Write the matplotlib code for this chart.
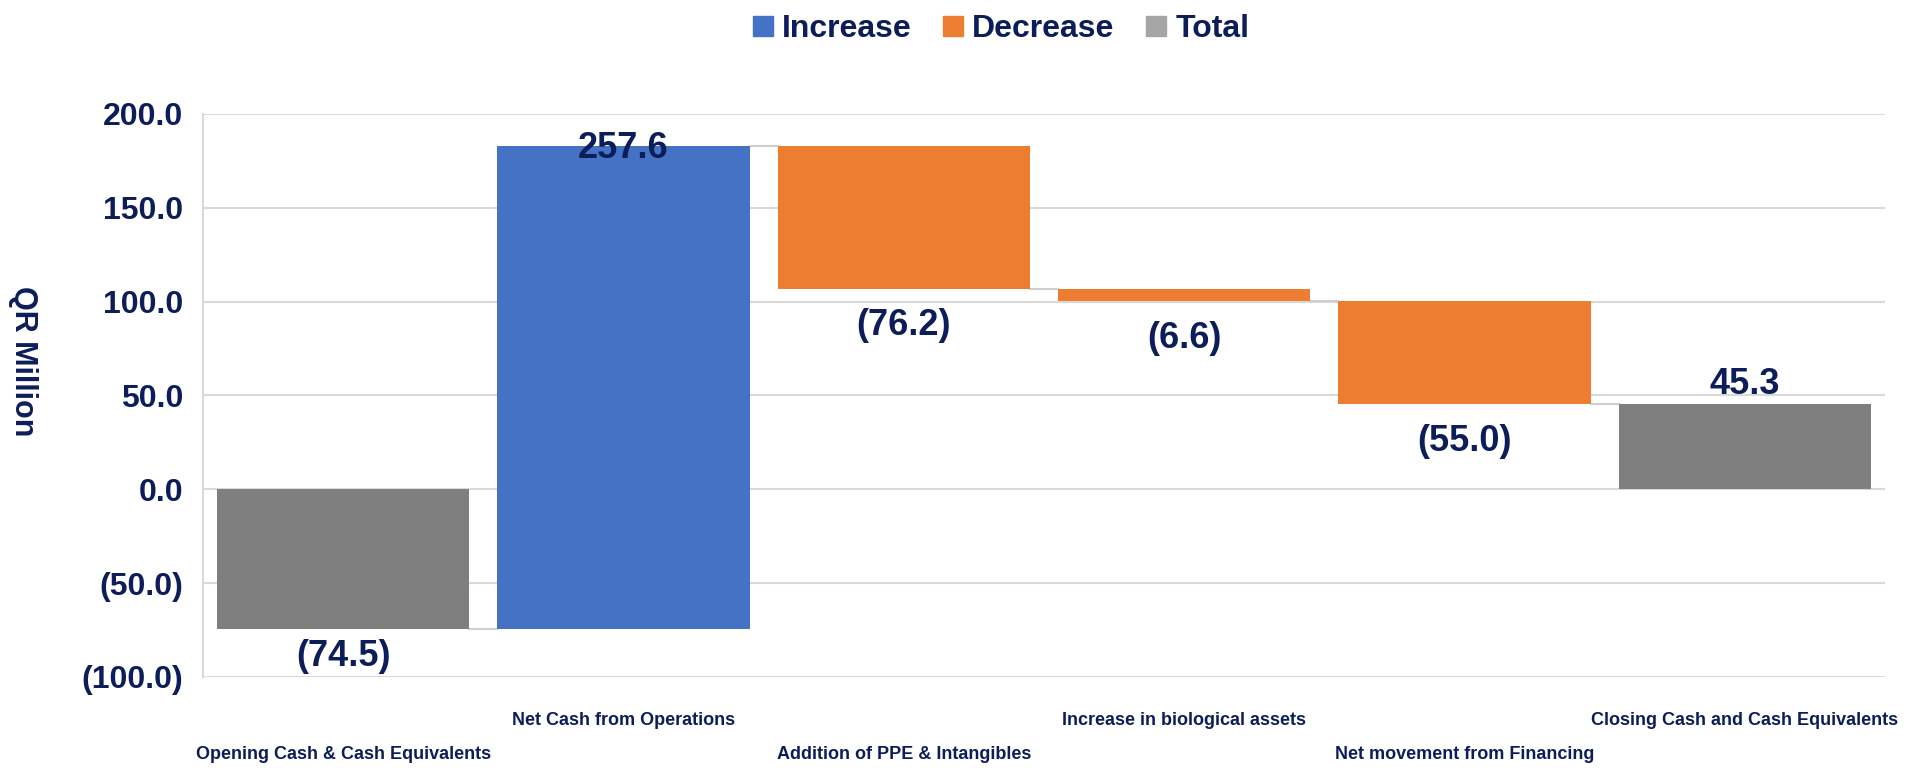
import numpy as np
import matplotlib.pyplot as plt
from matplotlib.lines import Line2D
from matplotlib.ticker import FuncFormatter

plt.rcParams['font.family'] = ['Liberation Sans', 'DejaVu Sans']
plt.rcParams['font.weight'] = 'bold'

categories = ["Opening Cash & Cash Equivalents", "Net Cash from Operations",
              "Addition of PPE & Intangibles", "Increase in biological assets",
              "Net movement from Financing", "Closing Cash and Cash Equivalents"]
values = [-74.5, 257.6, -76.2, -6.6, -55.0, 45.3]
kinds = ["total", "step", "step", "step", "step", "total"]

navy = "#0c1d5a"
col_inc = "#4472C4"
col_dec = "#ED7D31"
col_tot = "#7F7F7F"
grid_col = "#d9d9d9"


def fmt(v):
    if v < 0:
        return "({:.1f})".format(-v)
    return "{:.1f}".format(v)


# work out bar bottoms/tops
bottoms, tops, colors = [], [], []
level = 0.0
for v, k in zip(values, kinds):
    if k == "total":
        bottoms.append(0.0)
        tops.append(v)
        colors.append(col_tot)
        level = v
    else:
        bottoms.append(level)
        tops.append(level + v)
        colors.append(col_inc if v > 0 else col_dec)
        level = level + v

fig = plt.figure(figsize=(19.26, 7.68), dpi=100)
ax = fig.add_axes([0.1054, 0.1185, 0.8733, 0.7331])

x = np.arange(len(categories))
w = 0.9
heights = [t - b for t, b in zip(tops, bottoms)]
ax.bar(x, heights, bottom=bottoms, width=w, color=colors, zorder=3)

# connectors
for i in range(len(x) - 1):
    ax.plot([x[i] + w / 2, x[i + 1] - w / 2], [tops[i], tops[i]],
            color="#cfcfcf", lw=1.5, zorder=2)

# data labels
for i, v in enumerate(values):
    t = tops[i]
    if kinds[i] == "step" and v > 0:
        ax.annotate(fmt(v), (x[i], t), xytext=(0, -2), textcoords="offset points",
                    ha="center", va="center", fontsize=26, color=navy)
    elif v < 0:
        low = min(tops[i], bottoms[i])
        off = -7 if kinds[i] == "total" else -14
        ax.annotate(fmt(v), (x[i], low), xytext=(0, off), textcoords="offset points",
                    ha="center", va="top", fontsize=26, color=navy)
    else:
        ax.annotate(fmt(v), (x[i], t), xytext=(0, 2), textcoords="offset points",
                    ha="center", va="bottom", fontsize=26, color=navy)

ax.set_xlim(-0.5, len(x) - 0.5)
ax.set_ylim(-100, 200)
ax.set_yticks([-100, -50, 0, 50, 100, 150, 200])
ax.yaxis.set_major_formatter(FuncFormatter(lambda v, p: fmt(v)))
ax.tick_params(axis="y", length=0, labelsize=23, labelcolor=navy, pad=14)
ax.grid(axis="y", color=grid_col, lw=1.5, zorder=0)
ax.set_axisbelow(True)

ax.set_xticks(x)
ax.set_xticklabels(categories, fontsize=13, color=navy)
ax.tick_params(axis="x", length=0)
for i, tick in enumerate(ax.xaxis.get_major_ticks()):
    tick.set_pad(50 if i % 2 == 0 else 25)

for s in ["top", "right", "bottom"]:
    ax.spines[s].set_visible(False)
ax.spines["left"].set_color(grid_col)
ax.spines["left"].set_linewidth(1.5)

fig.text(0.012, 0.53, "QR Million", rotation=270, ha="center", va="center",
         fontsize=22, color=navy)

handles = [Line2D([], [], marker="s", ls="", markersize=14, color=c)
           for c in [col_inc, col_dec, "#A5A5A5"]]
leg = fig.legend(handles, ["Increase", "Decrease", "Total"], loc="center",
                 bbox_to_anchor=(0.519, 0.962), ncol=3, frameon=False,
                 fontsize=23, handletextpad=0.2, columnspacing=0.9,
                 handlelength=0.8)
for t in leg.get_texts():
    t.set_color(navy)

fig.savefig("out.png", dpi=100)
